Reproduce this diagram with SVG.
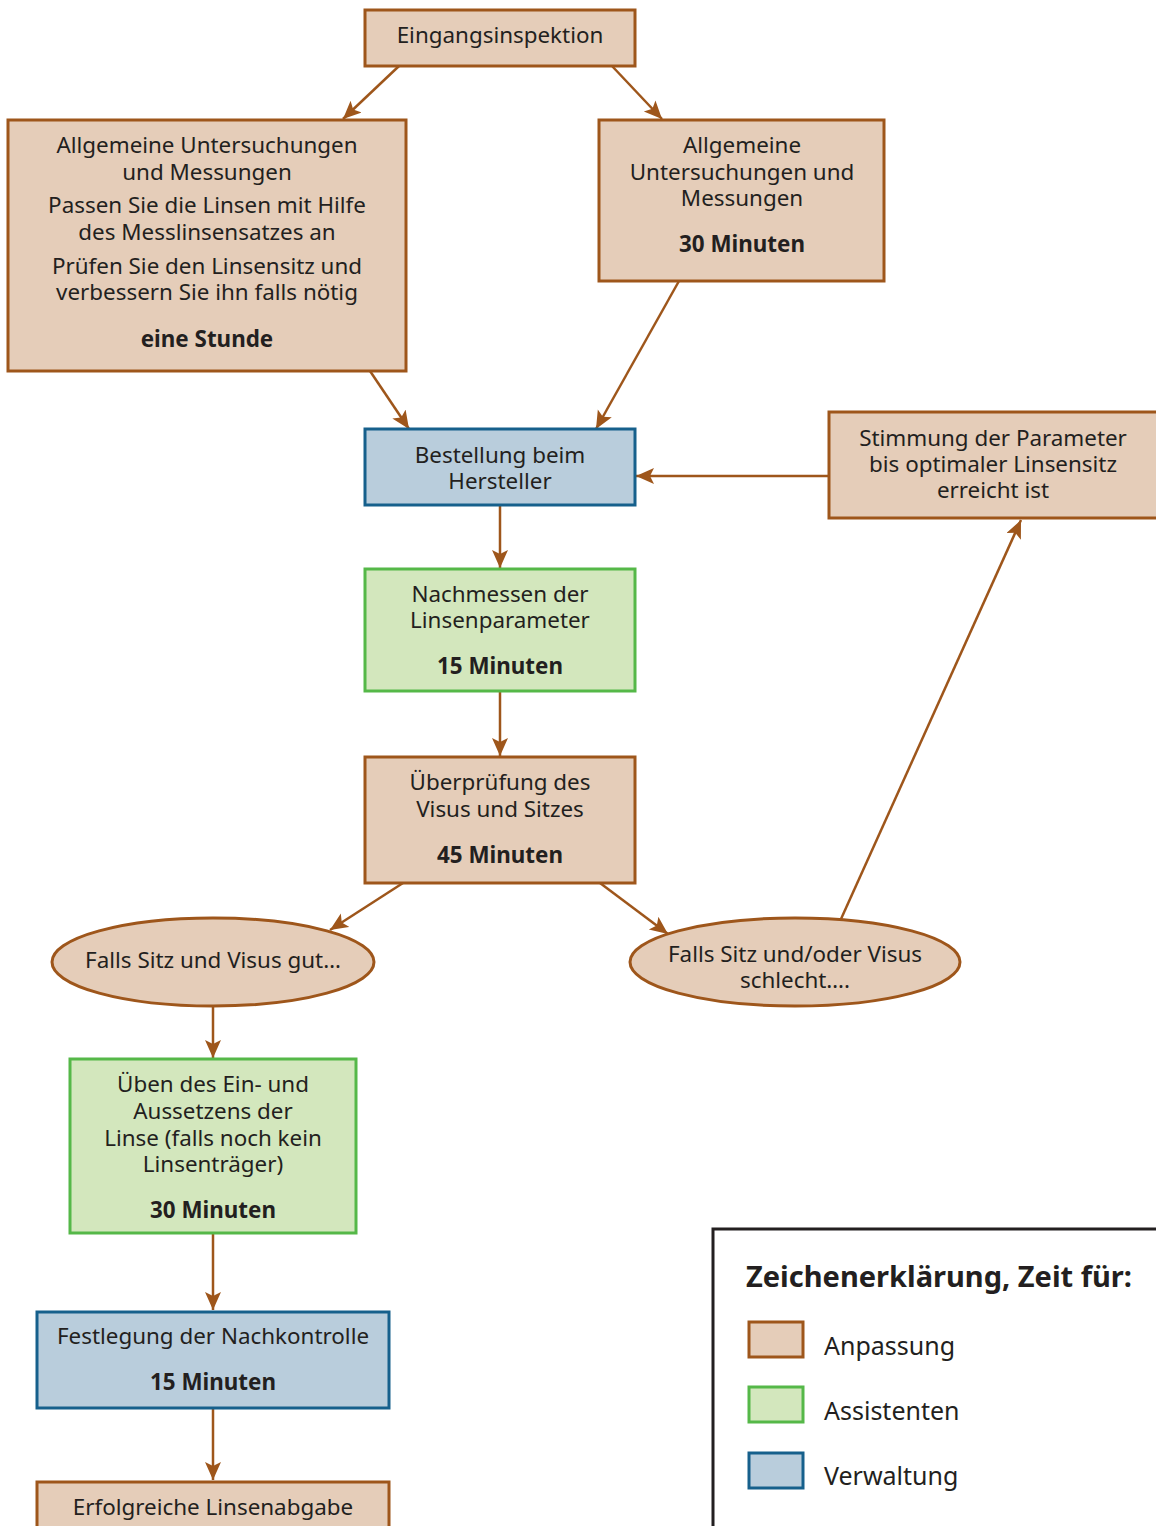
<svg xmlns="http://www.w3.org/2000/svg" width="1156" height="1526" viewBox="0 0 1156 1526">
<style>
  .tan { fill: #e5cdb9; stroke: #9e561b; stroke-width: 3; }
  .grn { fill: #d3e7bd; stroke: #55b848; stroke-width: 3; }
  .blu { fill: #b9cddc; stroke: #16608c; stroke-width: 3; }
  text { font-family: "Noto Sans", "DejaVu Sans", sans-serif; font-size: 22.4px; fill: #231f20; text-anchor: middle; }
  .b { font-weight: bold; }
  .conn line { stroke: #9e561b; stroke-width: 2.5; fill: none; marker-end: url(#ah); }
  .leg { text-anchor: start; font-size: 25px; }
</style>
<defs>
  <marker id="ah" markerUnits="userSpaceOnUse" markerWidth="20" markerHeight="18" refX="18" refY="8" orient="auto" viewBox="0 0 20 18">
    <path d="M0,0 L18,8 L0,16 L4,8 z" fill="#9e561b"/>
  </marker>
</defs>
<rect width="1156" height="1526" fill="#ffffff"/>

<g id="connectors" class="conn">
  <line x1="399" y1="66" x2="343" y2="119"/>
  <line x1="612" y1="66" x2="662" y2="119"/>
  <line x1="370" y1="371" x2="409" y2="429"/>
  <line x1="679" y1="281" x2="596" y2="429"/>
  <line x1="828" y1="476" x2="636" y2="476"/>
  <line x1="500" y1="505" x2="500" y2="568"/>
  <line x1="500" y1="691" x2="500" y2="756"/>
  <line x1="403" y1="883" x2="330" y2="930"/>
  <line x1="600" y1="883" x2="668" y2="934"/>
  <line x1="841" y1="919" x2="1021" y2="520"/>
  <line x1="213" y1="1006" x2="213" y2="1058"/>
  <line x1="213" y1="1233" x2="213" y2="1310"/>
  <line x1="213" y1="1408" x2="213" y2="1480"/>
</g>

<g id="eingang">
  <rect class="tan" x="365" y="10" width="270" height="56"/>
  <text x="500" y="43">Eingangsinspektion</text>
</g>

<g id="allg-links">
  <rect class="tan" x="8" y="120" width="398" height="251"/>
  <text x="207" y="153">Allgemeine Untersuchungen</text>
  <text x="207" y="180">und Messungen</text>
  <text x="207" y="213">Passen Sie die Linsen mit Hilfe</text>
  <text x="207" y="240">des Messlinsensatzes an</text>
  <text x="207" y="274">Prüfen Sie den Linsensitz und</text>
  <text x="207" y="300">verbessern Sie ihn falls nötig</text>
  <text class="b" x="207" y="347">eine Stunde</text>
</g>

<g id="allg-rechts">
  <rect class="tan" x="599" y="120" width="285" height="161"/>
  <text x="742" y="153">Allgemeine</text>
  <text x="742" y="180">Untersuchungen und</text>
  <text x="742" y="206">Messungen</text>
  <text class="b" x="742" y="252">30 Minuten</text>
</g>

<g id="bestellung">
  <rect class="blu" x="365" y="429" width="270" height="76"/>
  <text x="500" y="463">Bestellung beim</text>
  <text x="500" y="489">Hersteller</text>
</g>

<g id="stimmung">
  <rect class="tan" x="829" y="412" width="340" height="106"/>
  <text x="993" y="446">Stimmung der Parameter</text>
  <text x="993" y="472">bis optimaler Linsensitz</text>
  <text x="993" y="498">erreicht ist</text>
</g>

<g id="nachmessen">
  <rect class="grn" x="365" y="569" width="270" height="122"/>
  <text x="500" y="602">Nachmessen der</text>
  <text x="500" y="628">Linsenparameter</text>
  <text class="b" x="500" y="674">15 Minuten</text>
</g>

<g id="ueberpruefung">
  <rect class="tan" x="365" y="757" width="270" height="126"/>
  <text x="500" y="790">Überprüfung des</text>
  <text x="500" y="817">Visus und Sitzes</text>
  <text class="b" x="500" y="863">45 Minuten</text>
</g>

<g id="gut">
  <ellipse class="tan" cx="213" cy="962" rx="161" ry="44"/>
  <text x="213" y="968">Falls Sitz und Visus gut…</text>
</g>

<g id="schlecht">
  <ellipse class="tan" cx="795" cy="962" rx="165" ry="44"/>
  <text x="795" y="962">Falls Sitz und/oder Visus</text>
  <text x="795" y="988">schlecht….</text>
</g>

<g id="ueben">
  <rect class="grn" x="70" y="1059" width="286" height="174"/>
  <text x="213" y="1092">Üben des Ein- und</text>
  <text x="213" y="1119">Aussetzens der</text>
  <text x="213" y="1146">Linse (falls noch kein</text>
  <text x="213" y="1172">Linsenträger)</text>
  <text class="b" x="213" y="1218">30 Minuten</text>
</g>

<g id="festlegung">
  <rect class="blu" x="37" y="1312" width="352" height="96"/>
  <text x="213" y="1344">Festlegung der Nachkontrolle</text>
  <text class="b" x="213" y="1390">15 Minuten</text>
</g>

<g id="abgabe">
  <rect class="tan" x="37" y="1482" width="352" height="60"/>
  <text x="213" y="1515">Erfolgreiche Linsenabgabe</text>
</g>

<g id="legende">
  <rect x="713" y="1229" width="500" height="400" fill="#ffffff" stroke="#231f20" stroke-width="3"/>
  <text class="b" x="746" y="1287" style="text-anchor:start;font-size:29px">Zeichenerklärung, Zeit für:</text>
  <rect class="tan" x="749" y="1322" width="54" height="35"/>
  <text class="leg" x="824" y="1355">Anpassung</text>
  <rect class="grn" x="749" y="1387" width="54" height="35"/>
  <text class="leg" x="824" y="1420">Assistenten</text>
  <rect class="blu" x="749" y="1453" width="54" height="35"/>
  <text class="leg" x="824" y="1485">Verwaltung</text>
</g>
</svg>
